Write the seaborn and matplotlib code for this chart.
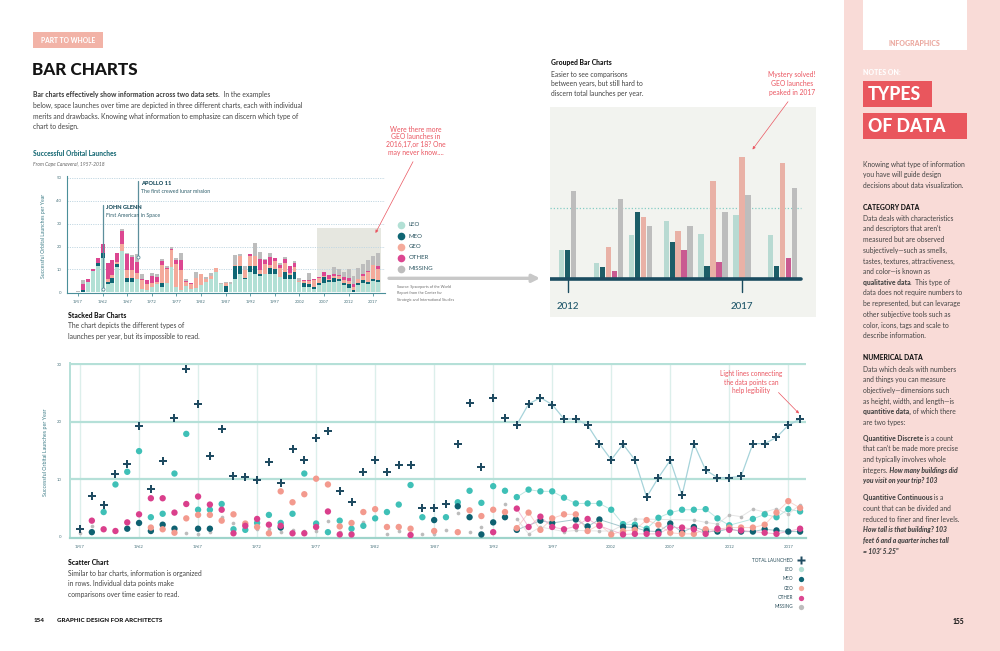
import numpy as np
import pandas as pd
import matplotlib
matplotlib.use("Agg")
import matplotlib.pyplot as plt
import seaborn as sns
from matplotlib.patches import Rectangle

# ---------------- data ----------------
years = list(range(1957, 2019))
leo = [0, 0, 4.3, 9.1, 11.3, 14.9, 3.4, 4.0, 11.0, 17.9, 4.7, 4.7, 5.7, 1.3, 1.2, 2.4,
       3.8, 2.4, 4.0, 11.0, 2.3, 0.8, 2.8, 1.4, 1.9, 3.2, 4.3, 5.6, 9.0, 3.4, 0, 3.4,
       6.0, 8.0, 5.9, 8.8, 8.0, 6.9, 8.2, 7.9, 7.9, 6.8, 5.8, 5.8, 5.8, 4.7, 2.2, 2.1,
       1.4, 3.3, 4.2, 4.7, 4.7, 4.8, 3.2, 2.0, 0, 3.1, 3.9, 3.4, 4.8, 4.4]
meo = [0, 0.8, 0, 0, 1.4, 2.4, 1.0, 2.1, 1.4, 0, 1.4, 1.4, 0, 0, 0, 0,
       0, 1.6, 0, 0, 0, 0, 0, 0, 0, 0, 0, 0, 0, 0, 2.9, 0,
       5.3, 3.4, 0.4, 2.5, 3.4, 1.2, 0, 2.8, 2.4, 0, 3.0, 1.8, 3.0, 0, 1.7, 1.6,
       1.0, 0.9, 2.3, 0.8, 1.7, 1.0, 0.9, 1.4, 0.9, 0.9, 1.3, 1.1, 0.9, 0.9]
geo = [0, 0, 0, 0, 0, 0, 1.6, 1.3, 0.7, 3.2, 3.8, 3.8, 2.8, 3.9, 2.3, 1.7,
       0.6, 7.9, 6.0, 7.4, 10.1, 9.1, 1.8, 2.4, 4.3, 4.8, 1.7, 1.7, 1.4, 0, 1.0, 0,
       0.8, 4.6, 3.6, 4.7, 4.3, 1.5, 4.2, 1.2, 3.2, 3.9, 3.9, 1.0, 2.1, 0.4, 1.0, 1.2,
       2.9, 2.1, 0.7, 0.5, 0.5, 1.3, 1.3, 1.6, 1.6, 1.6, 2.1, 4.2, 6.2, 5.0]
other = [0, 2.8, 1.3, 1.0, 2.5, 3.9, 6.7, 6.7, 4.2, 5.7, 7.0, 5.6, 4.7, 0.6, 1.9, 3.1,
         2.1, 1.9, 0.6, 0.6, 1.7, 4.4, 0.4, 0.4, 0, 0, 0, 0, 0.3, 0, 0, 0,
         0, 0, 0, 0.8, 0, 4.9, 1.7, 3.5, 1.7, 1.3, 1.8, 3.1, 1.9, 0, 0.4, 0.5,
         0.5, 0.5, 1.6, 1.6, 1.3, 0.5, 1.4, 1.2, 1.1, 0, 0.7, 0.5, 0, 1.4]
missing = [0.7, 1.9, 0, 0, 0, 0, 0, 0, 0, 0.7, 0.4, 0.9, 3.5, 2.4, 0, 1.3,
           1.4, 0.9, 1.1, 1.0, 1.0, 2.8, 0.9, 0, 2.5, 0, 0.5, 1.0, 0, 0.5, 0.5, 1.2,
           4.1, 0.8, 1.7, 0, 5.7, 3.1, 0.5, 1.7, 0, 0.9, 1.1, 0, 1.0, 1.0, 0, 3.1,
           0, 0, 0, 0, 2.9, 2.5, 2.2, 3.8, 3.5, 4.8, 4.3, 4.9, 3.9, 5.6]
total = [1.3, 7.1, 5.6, 10.9, 12.6, 19.2, 8.3, 13.2, 20.6, 29.2, 23.1, 14.0, 18.7, 10.6, 10.4, 9.9,
         13.0, 9.4, 15.2, 13.4, 17.2, 18.4, 8.0, 6.0, 11.2, 13.4, 11.2, 12.4, 12.5, 5.0, 5.0, 5.7,
         16.1, 23.3, 12.2, 24.2, 20.6, 19.5, 23.1, 24.2, 23.0, 20.5, 20.5, 19.4, 16.2, 13.4, 16.1, 13.4,
         6.9, 10.3, 13.3, 7.2, 16.2, 11.6, 10.3, 10.3, 10.5, 16.2, 16.2, 17.3, 19.4, 20.5]

grp_years = [2012, 2013, 2014, 2015, 2016, 2017, 2018]
grp_leo = [2.2, 1.2, 3.3, 4.35, 3.35, 4.8, 3.3]
grp_meo = [2.15, 0.9, 5.0, 2.75, 1.0, 0, 1.0]
grp_geo = [0, 2.4, 4.65, 3.6, 7.4, 9.2, 8.7]
grp_other = [0, 0.6, 0, 2.2, 1.3, 0, 1.6]
grp_missing = [6.6, 6.0, 4.0, 4.0, 5.0, 6.3, 6.85]
grp_ref_line = 5.3

categories = ["LEO", "MEO", "GEO", "OTHER", "MISSING"]
series = [leo, meo, geo, other, missing]
grp_series = [grp_leo, grp_meo, grp_geo, grp_other, grp_missing]

bar_colors = {"LEO": "#b2e0d5", "MEO": "#0f6674", "GEO": "#f4aa9b",
              "OTHER": "#dc4791", "MISSING": "#bdbdbd"}
dot_colors = {"LEO": "#3fc0b7", "MEO": "#0e6171", "GEO": "#f39a8e",
              "OTHER": "#da3f8c", "MISSING": "#bcbcbc"}
line_colors = {"LEO": "#9fdcd6", "MEO": "#7fb0b9", "GEO": "#f7c3bb",
               "OTHER": "#eda3c6", "MISSING": "#d9d9d9"}

# ---------------- figure ----------------
sns.set_theme(style="white")
plt.rcParams["font.family"] = ["Lato", "DejaVu Sans"]
plt.rcParams["axes.unicode_minus"] = False

W, H = 1000, 651
fig = plt.figure(figsize=(W / 100, H / 100), dpi=100)
fig.patch.set_facecolor("white")


def axes_px(x0, y0, x1, y1, z=1):
    ax = fig.add_axes([x0 / W, 1 - y1 / H, (x1 - x0) / W, (y1 - y0) / H])
    ax.set_zorder(z)
    return ax


ov = axes_px(0, 0, W, H, z=10)
ov.set_xlim(0, W)
ov.set_ylim(H, 0)
ov.axis("off")
renderer = fig.canvas.get_renderer()

DARK = "#141414"
BODY = "#444444"
RED = "#ea5560"
TEAL = "#1d6d78"
FS = 4.85   # body text size


def T(x, y, s, size, color=BODY, weight="normal", style="normal", ha="left", va="center", **kw):
    return ov.text(x, y, s, fontsize=size, color=color, fontweight=weight,
                   fontstyle=style, ha=ha, va=va, **kw)


def rich(x, y, parts, size, color=BODY):
    cx = x
    for s, wt, st in parts:
        t = T(cx, y, s, size, color=color, weight=wt, style=st)
        cx += t.get_window_extent(renderer=renderer).width


def box(x0, y0, x1, y1, color, z=0.5):
    ov.add_patch(Rectangle((x0, y0), x1 - x0, y1 - y0, facecolor=color,
                           edgecolor="none", zorder=z))


def arrow(x0, y0, x1, y1, color, lw=0.6, ms=5):
    ov.annotate("", xy=(x1, y1), xytext=(x0, y0),
                arrowprops=dict(arrowstyle="-|>", color=color, lw=lw,
                                mutation_scale=ms, shrinkA=0, shrinkB=0))


# ---------------- right sidebar ----------------
box(844, 0, 1000, 651, "#f9dbd7")
box(862.7, 0, 966.7, 50, "white", z=0.6)
T(914.7, 43.5, "INFOGRAPHICS", 5.0, color="#eba89f", weight="black", ha="center")
T(862.7, 72.7, "NOTES ON:", 5.0, color="white", weight="black")
box(862.7, 81, 931.7, 107, "#e9565d", z=0.6)
T(867.5, 94.5, "TYPES", 12.7, color="white", weight="black")
box(862.7, 112.7, 966.7, 139.3, "#e9565d", z=0.6)
T(867.5, 126.5, "OF DATA", 12.7, color="white", weight="black")

R, B, I, BI = ("normal", "normal"), ("black", "normal"), ("normal", "italic"), ("black", "italic")
side = [
    (164.3, [("Knowing what type of information",) + R]),
    (175.0, [("you have will guide design",) + R]),
    (185.7, [("decisions about data visualization.",) + R]),
    (207.3, [("CATEGORY DATA",) + B]),
    (218.3, [("Data deals with characteristics",) + R]),
    (229.0, [("and descriptors that aren't",) + R]),
    (239.7, [("measured but are observed",) + R]),
    (250.3, [("subjectively\u2014such as smells,",) + R]),
    (261.0, [("tastes, textures, attractiveness,",) + R]),
    (271.7, [("and color\u2014is known as",) + R]),
    (282.3, [("qualitative data",) + B, (".  This type of",) + R]),
    (293.0, [("data does not require numbers to",) + R]),
    (303.7, [("be represented, but can levarage",) + R]),
    (314.3, [("other subjective tools such as",) + R]),
    (325.0, [("color, icons, tags and scale to",) + R]),
    (335.7, [("describe information.",) + R]),
    (358.0, [("NUMERICAL DATA",) + B]),
    (369.0, [("Data which deals with numbers",) + R]),
    (379.6, [("and things you can measure",) + R]),
    (390.3, [("objectively\u2014dimensions such",) + R]),
    (401.0, [("as height, width, and length\u2014is",) + R]),
    (411.6, [("quantitive data,",) + B, (" of which there",) + R]),
    (422.3, [("are two types:",) + R]),
    (438.3, [("Quantitive Discrete",) + B, (" is a count",) + R]),
    (449.0, [("that can't be made more precise",) + R]),
    (459.6, [("and typically involves whole",) + R]),
    (470.3, [("integers.",) + R, (" How many buildings did",) + BI]),
    (481.0, [("you visit on your trip? 103",) + BI]),
    (497.7, [("Quantitive Continuous",) + B, (" is a",) + R]),
    (508.3, [("count that can be divided and",) + R]),
    (519.0, [("reduced to finer and finer levels.",) + R]),
    (529.6, [("How tall is that building? 103",) + BI]),
    (540.3, [("feet 6 and a quarter inches tall",) + BI]),
    (551.0, [("= 103' 5.25\"",) + BI]),
]
for y, parts in side:
    big = parts[0][0].isupper() and len(parts) == 1 and parts[0][1] == "black"
    rich(862.7, y, parts, 4.9, color=DARK if big else BODY)
T(958, 621, "155", 4.8, color=DARK, weight="black", ha="center")

# ---------------- left page texts ----------------
box(33, 32.3, 103, 48.3, "#f2b3a7", z=0.6)
T(68, 40.5, "PART TO WHOLE", 4.8, color="white", weight="black", ha="center")
T(32, 70, "BAR CHARTS", 12.3, color=DARK, weight="black")
rich(33, 95, [("Bar charts effectively show information across two data sets.",) + B,
              ("  In the examples",) + R], FS)
rich(33, 105.7, [("below, space launches over time are depicted in three different charts, each with individual",) + R], FS)
rich(33, 116, [("merits and drawbacks. Knowing what information to emphasize can discern which type of",) + R], FS)
rich(33, 126.7, [("chart to design.",) + R], FS)

T(33, 154, "Successful Orbital Launches", 4.8, color=TEAL, weight="black")
T(33, 164.7, "From Cape Canaveral, 1957-2018", 3.6, color="#666666", style="italic")
T(43, 236, "Successful Orbital Launches per Year", 3.7, color="#3c7c87",
  rotation=90, ha="center")

T(68, 315, "Stacked Bar Charts", 4.9, color=DARK, weight="black")
T(68, 325.7, "The chart depicts the different types of", FS)
T(68, 336.3, "launches per year, but its impossible to read.", FS)

# legend of the stacked chart
for k, cat in enumerate(categories):
    yy = [225, 236, 247, 257.7, 268.7][k]
    ov.plot([401], [yy], "o", ms=5.5, color=bar_colors[cat], mec="none")
    T(408.5, yy, cat, 4.4, color="#2b5561")
for k, s in enumerate(["Source: Spaceports of the World", "Report from the Center for",
                       "Strategic and International Studies"]):
    T(396.7, [286.7, 293.3, 299.7][k], s, 2.7, color="#6a6a6a")
arrow(389, 278.3, 540, 278.3, "#c8c8c8", lw=2.4, ms=11)

for k, s in enumerate(["Were there more", "GEO launches in", "2016,17,or 18? One",
                       "may never know...."]):
    T(416, [129, 136.7, 144.3, 152.3][k], s, 4.9, color=RED, ha="center")
arrow(413, 161.7, 375.5, 233, RED, lw=0.5, ms=4)

# grouped chart texts
T(551, 62.7, "Grouped Bar Charts", 4.9, color=DARK, weight="black")
T(551, 74, "Easier to see comparisons", FS)
T(551, 83.7, "between years, but still hard to", FS)
T(551, 93.7, "discern total launches per year.", FS)
for k, s in enumerate(["Mystery solved!", "GEO launches", "peaked in 2017"]):
    T(792, [75, 83.7, 92.7][k], s, 4.9, color=RED, ha="center")
arrow(788, 101.7, 752.5, 149.5, RED, lw=0.5, ms=4)

# scatter texts
T(45, 452, "Successful Orbital Launches per Year", 3.9, color="#3c7c87",
  rotation=90, ha="center")
for k, s in enumerate(["Light lines connecting", "the data points can", "help legibility"]):
    T(751, [373.3, 382.3, 391][k], s, 4.7, color=RED, ha="center")
arrow(778.5, 392.5, 799, 413.5, RED, lw=0.5, ms=4)

leg_rows = ["TOTAL LAUNCHED"] + categories
leg_y = [560, 569.3, 578.7, 588.3, 597.7, 607]
for k, lab in enumerate(leg_rows):
    T(793, leg_y[k], lab, 3.3, color="#2a4e5b", ha="right")
    if k == 0:
        ov.plot([801], [leg_y[k]], "P", ms=5.2, color="#1f4b61", mec="none")
    else:
        ov.plot([801], [leg_y[k]], "o", ms=3.8, color=bar_colors[lab], mec="none")

T(68.3, 562.3, "Scatter Chart", 4.9, color=DARK, weight="black")
T(68.3, 573.3, "Similar to bar charts, information is organized", FS)
T(68.3, 583.7, "in rows. Individual data points make", FS)
T(68.3, 594, "comparisons over time easier to read.", FS)

T(33.3, 621, "154", 4.5, color=DARK, weight="black")
T(56.7, 621, "GRAPHIC DESIGN FOR ARCHITECTS", 4.5, color=DARK, weight="black")

# ---------------- stacked bar chart ----------------
ax1 = axes_px(67, 175.7, 385, 293.4)
ax1.patch.set_alpha(0)
ax1.set_xlim(1954.76, 2019.4)
ax1.set_ylim(-0.5, 51)
ax1.add_patch(Rectangle((2005.6, 0), 12.9, 28, facecolor="#e6e7e0", edgecolor="none", zorder=0.5))
for v in range(10, 60, 10):
    ax1.axhline(v, color="#c3d8e3", lw=0.7, ls=(0, (1.2, 1.2)), zorder=0.6)
bottom = np.zeros(len(years))
for cat, vals in zip(categories, series):
    ax1.bar(years, vals, bottom=bottom, width=0.8, color=bar_colors[cat], linewidth=0, zorder=2)
    bottom += np.array(vals)
sns.despine(ax=ax1)
for sp in ("left", "bottom"):
    ax1.spines[sp].set_color("#4a8f99")
    ax1.spines[sp].set_linewidth(0.8)
ax1.set_xticks(range(1957, 2018, 5))
ax1.set_yticks(range(0, 60, 10))
ax1.tick_params(axis="x", labelsize=3.1, colors="#4d7680", length=2, width=0.6, pad=2.5,
                color="#4a8f99", bottom=True)
ax1.tick_params(axis="y", labelsize=3.1, colors="#4d7680", length=0, pad=4)
# event call-outs
ev_col = "#5c8f9c"
ax1.plot([1962, 1962], [1.4, 38.2], color=ev_col, lw=0.9, zorder=3)
ax1.plot([1969.1, 1969.1], [15.6, 48.7], color=ev_col, lw=0.9, zorder=3)
ax1.plot([1962], [1.4], "o", ms=2.2, mfc="white", mec=ev_col, mew=0.6, zorder=4)
ax1.plot([1969.1], [15.6], "o", ms=2.2, mfc="white", mec=ev_col, mew=0.6, zorder=4)
ax1.text(1962.7, 37.0, "JOHN GLENN", fontsize=4.1, color="#174b5b", fontweight="black", va="center")
ax1.text(1962.7, 33.5, "First American in Space", fontsize=3.8, color="#2f5f6c", va="center")
ax1.text(1969.8, 47.7, "APOLLO 11", fontsize=4.1, color="#174b5b", fontweight="black", va="center")
ax1.text(1969.8, 44.0, "The first crewed lunar mission", fontsize=3.8, color="#2f5f6c", va="center")

# ---------------- grouped bar chart ----------------
ax2 = axes_px(550, 107, 816, 317)
ax2.set_facecolor("#f2f3ef")
pitch = 0.172
rows = []
centers = []
for i, yr in enumerate(grp_years):
    k = 0
    for cat, arr in zip(categories, grp_series):
        if arr[i] > 0:
            rows.append((i + k * pitch, arr[i], cat))
            k += 1
    centers.append(i + (k - 1) * pitch / 2)
gdf = pd.DataFrame(rows, columns=["pos", "value", "cat"])
sns.barplot(data=gdf, x="pos", y="value", hue="cat", hue_order=categories,
            palette=bar_colors, native_scale=True, dodge=False, width=0.9,
            errorbar=None, legend=False, linewidth=0, ax=ax2, zorder=2)
ax2.set_xlim(-0.336, 7.30)
ax2.set_ylim(-2.86, 12.93)
ax2.axhline(grp_ref_line, xmin=0, xmax=0.944, color="#86cdc5", lw=0.9, ls=(0, (1, 1.6)), zorder=1)
ax2.axhline(0, xmin=0, xmax=0.944, color="#1b4c60", lw=2.6, zorder=3)
for idx in (0, 5):
    c = centers[idx]
    ax2.plot([c, c], [0, -0.95], color="#1b4c60", lw=1.0, zorder=3)
    ax2.text(c, -2.1, str(grp_years[idx]), fontsize=7, color="#1d5569",
             ha="center", va="center", fontweight="medium")
for sp in ax2.spines.values():
    sp.set_visible(False)
ax2.set_xticks([])
ax2.set_yticks([])
ax2.set_xlabel("")
ax2.set_ylabel("")

# ---------------- scatter chart ----------------
ax3 = axes_px(70, 363.2, 806, 537.9)
ax3.patch.set_alpha(0)
ax3.set_xlim(1956.15, 2018.5)
ax3.set_ylim(-0.2, 30.2)
for yv in range(1957, 2018, 5):
    ax3.axvline(yv, color="#dcefeb", lw=1.0, zorder=0)
for v in (10, 20, 30):
    ax3.axhline(v, color="#b5e0d8", lw=1.6, zorder=0.5)

long = pd.DataFrame({
    "year": np.repeat(years, len(categories)),
    "cat": categories * len(years),
    "value": np.array(series).T.ravel(),
})
long = long[long["value"] > 0]
conn = long[long["year"] >= 1994]
sns.lineplot(data=conn, x="year", y="value", hue="cat", palette=line_colors,
             estimator=None, lw=0.7, alpha=0.7, legend=False, ax=ax3, zorder=1)
tot_df = pd.DataFrame({"year": years, "total": total})
sns.lineplot(data=tot_df[tot_df["year"] >= 1994], x="year", y="total", color="#a6d3da",
             estimator=None, lw=0.9, ax=ax3, zorder=1)
sns.scatterplot(data=long[long["cat"] == "MISSING"], x="year", y="value", color=dot_colors["MISSING"],
                s=7, linewidth=0, legend=False, ax=ax3, zorder=2)
sns.scatterplot(data=long[long["cat"] != "MISSING"], x="year", y="value", hue="cat",
                palette=dot_colors, s=21, linewidth=0, legend=False, ax=ax3, zorder=3)
sns.scatterplot(data=tot_df, x="year", y="total", marker="P", s=26, color="#1f4b61",
                linewidth=0, ax=ax3, zorder=4)
sns.despine(ax=ax3)
ax3.spines["left"].set_color("#b5e0d8")
ax3.spines["left"].set_linewidth(1.4)
ax3.spines["bottom"].set_color("#9fd4cb")
ax3.spines["bottom"].set_linewidth(1.6)
ax3.set_xticks(range(1957, 2018, 5))
ax3.set_yticks([0, 10, 20, 30])
ax3.tick_params(axis="x", labelsize=3.1, colors="#4d7680", length=0, pad=5)
ax3.tick_params(axis="y", labelsize=3.1, colors="#4d7680", length=0, pad=6)
ax3.set_xlabel("")
ax3.set_ylabel("")
ax1.set_xlabel("")
ax1.set_ylabel("")

fig.savefig("out.png", dpi=100, facecolor="white")
